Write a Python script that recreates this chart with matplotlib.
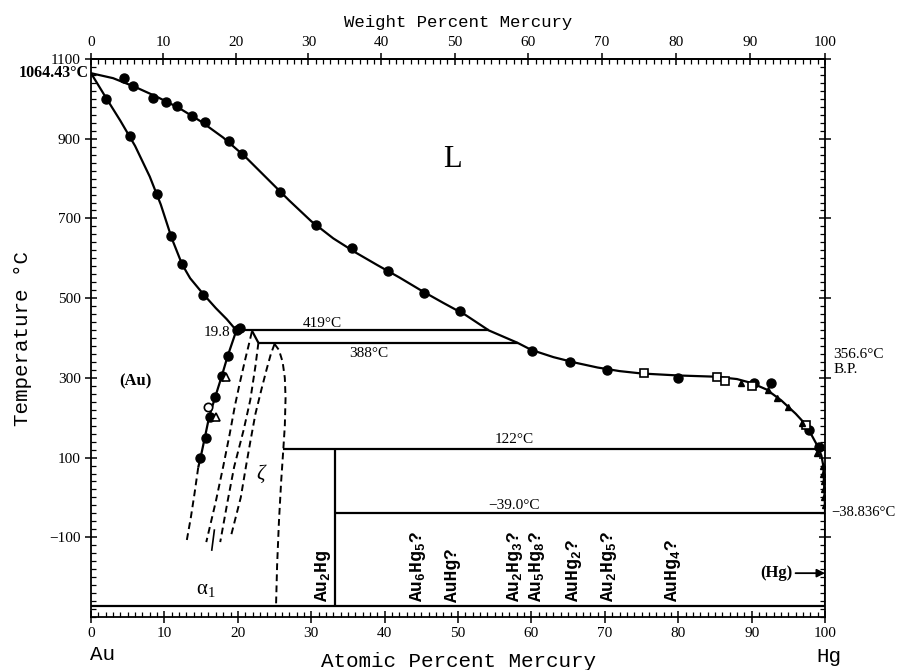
import matplotlib
matplotlib.use("Agg")
import matplotlib.pyplot as plt
from matplotlib.ticker import MultipleLocator, FixedLocator
import numpy as np

# ----------------------------------- DATA ----------------------------------- #

M_AU = 196.967
M_HG = 200.59

AU_MELT = 1064.43
HG_MELT = -38.836
ABS_ZERO = -273.0

# liquidus, at.% Hg vs temperature
liquidus_x = [0, 3, 6, 9, 12, 15, 18, 21, 24, 27, 30, 33, 36, 39, 42, 45, 48, 51, 54.2,
              58.1, 60, 63, 66, 69, 72, 75, 80, 85, 88, 90, 92, 94, 96, 97, 98, 99,
              99.5, 99.75, 99.85, 99.95, 100]
liquidus_t = [AU_MELT, 1052, 1030, 1005, 977, 943, 903, 855, 800, 745, 693, 650, 615, 583,
              552, 519, 488, 458, 419, 388, 370, 352, 338, 326, 317, 311, 306, 303, 297,
              287, 271, 244, 210, 190, 162, 128, 105, 80, 40, 0, HG_MELT]

# (Au) solidus
solidus_x = [0, 2, 4, 6, 8, 9.5, 11, 12.4, 13.5, 15.3, 17, 18.5, 19.8]
solidus_t = [AU_MELT, 1004, 945, 882, 805, 735, 650, 585, 550, 510, 475, 447, 419]

# (Au) solvus, measured part and dashed extension
solvus_x = [19.8, 18.6, 17.8, 16.9, 16.1, 15.5, 14.9, 14.6]
solvus_t = [419, 354, 304, 251, 203, 150, 98, 75]
solvus_ext_x = [14.6, 14.1, 13.6, 13.05]
solvus_ext_t = [75, 10, -50, -107]

# dashed phase boundaries between (Au) and zeta
bound_a_x = [21.9, 21.45, 21.0, 20.3, 19.6, 18.9, 18.0, 17.0, 15.7]
bound_a_t = [415, 380, 346, 290, 230, 160, 77, -10, -112]
bound_b_x = [22.8, 22.4, 21.7, 20.8, 19.5, 18.6, 17.6]
bound_b_t = [388, 330, 245, 170, 77, -10, -112]
bound_c_x = [25.0, 24.5, 23.9, 23.2, 22.4, 21.7, 21.1, 20.4, 19.1]
bound_c_t = [385, 360, 320, 270, 210, 140, 77, 0, -94]
zeta_right_x = [25.0, 25.6, 26.1, 26.4, 26.5, 26.4, 26.2, 25.9, 25.6, 25.35, 25.2]
zeta_right_t = [385, 370, 340, 300, 250, 180, 122, 40, -60, -170, -273]

# invariant horizontals
inv_t = [419, 388, 122, -39.0]
inv_left = [19.8, 22.8, 26.1, 33.3]
inv_right = [54.2, 58.1, 99.2, 100]
peritectic_step_x = [21.9, 22.8]
peritectic_step_t = [419, 388]

# Au2Hg line compound
au2hg_x = 33.3

# experimental points
circ_x = [4.5, 5.7, 8.5, 10.2, 11.7, 13.7, 15.5, 18.8, 20.6, 25.7, 30.7, 35.6, 40.5, 45.3,
          50.2, 2.0, 5.3, 9.0, 10.9, 12.4, 15.3, 19.9, 20.3, 18.6, 17.8, 16.9, 16.2, 15.7,
          14.9, 60.1, 65.2, 70.3, 80.0, 90.3, 92.6, 97.8, 99.2]
circ_t = [1052, 1032, 1002, 992, 982, 957, 941, 894, 861, 766, 683, 627, 567, 514,
          467, 1000, 906, 761, 655, 585, 509, 421, 425, 354, 304, 251, 203, 150,
          98, 368, 341, 319, 300, 288, 288, 168, 126]
open_circ_x = [16.0]
open_circ_t = [227]
open_tri_x = [18.4, 17.0]
open_tri_t = [303, 203]
square_x = [75.3, 85.3, 86.4, 90.0, 97.4]
square_t = [313, 303, 291, 279, 182]
tri_x = [88.5, 92.2, 93.5, 94.9, 96.9, 98.9, 99.7, 99.75, 99.8, 99.85, 99.9, 99.95]
tri_t = [286, 269, 250, 228, 188, 112, 80, 60, 40, 20, 0, -20]

# phase labels, rotated
compound_labels = ["Au$_2$Hg", "Au$_6$Hg$_5$?", "AuHg?", "Au$_2$Hg$_3$?", "Au$_5$Hg$_8$?",
                   "AuHg$_2$?", "Au$_2$Hg$_5$?", "AuHg$_4$?"]
compound_label_x = [31.6, 44.6, 49.2, 57.8, 60.8, 65.8, 70.5, 79.3]

y_major = [1100, 900, 700, 500, 300, 100, -100]


# ------------------------------- CONVERSIONS -------------------------------- #


def at_to_wt(x):
    x = np.asarray(x, dtype=float)
    return 100 * x * M_HG / (x * M_HG + (100 - x) * M_AU)


def wt_to_at(w):
    w = np.asarray(w, dtype=float)
    return 100 * (w / M_HG) / (w / M_HG + (100 - w) / M_AU)


# ----------------------------------- PLOT ----------------------------------- #


def plot() -> None:
    plt.rcParams["font.family"] = ["Liberation Serif", "DejaVu Serif"]
    plt.rcParams["mathtext.default"] = "regular"

    fig = plt.figure(figsize=(9.04, 6.70), dpi=100)
    ax = fig.add_axes([0.1007, 0.0791, 0.812, 0.8328])
    lw = 1.6
    line = dict(color="black", lw=lw, solid_capstyle="butt")
    dash = dict(color="black", lw=1.4, linestyle=(0, (3.5, 2.2)))

    ax.plot(liquidus_x, liquidus_t, **line)
    ax.plot(solidus_x, solidus_t, **line)
    ax.plot(solvus_x, solvus_t, **line)
    ax.plot(peritectic_step_x, peritectic_step_t, **line)
    ax.hlines(inv_t, inv_left, inv_right, color="black", lw=lw)
    ax.vlines(au2hg_x, ABS_ZERO, 122, color="black", lw=lw)
    ax.hlines(ABS_ZERO, 0, 100, color="black", lw=lw)
    ax.vlines(100, ABS_ZERO, HG_MELT, color="black", lw=2.2)

    for bx, bt in [(solvus_ext_x, solvus_ext_t), (bound_a_x, bound_a_t),
                   (bound_b_x, bound_b_t), (bound_c_x, bound_c_t),
                   (zeta_right_x, zeta_right_t)]:
        ax.plot(bx, bt, **dash)

    ax.plot(circ_x, circ_t, "o", color="black", ms=6.5, zorder=5)
    ax.plot(open_circ_x, open_circ_t, "o", mfc="white", mec="black", mew=1.2, ms=6, zorder=5)
    ax.plot(open_tri_x, open_tri_t, "^", mfc="white", mec="black", mew=1.2, ms=6, zorder=5)
    ax.plot(square_x, square_t, "s", mfc="white", mec="black", mew=1.2, ms=6, zorder=5)
    ax.plot(tri_x, tri_t, "^", color="black", ms=5, zorder=5)

    # ------------------------------ annotations ----------------------------- #
    ax.text(49.2, 849, "L", fontsize=22, ha="center", va="center")
    ax.text(6.1, 291, "(Au)", fontsize=12, fontweight="bold", ha="center", va="center")
    ax.text(19.0, 414, "19.8", fontsize=11, ha="right", va="center")
    ax.text(31.5, 436, "419°C", fontsize=11, ha="center", va="center")
    ax.text(37.9, 362, "388°C", fontsize=11, ha="center", va="center")
    ax.text(57.6, 145, "122°C", fontsize=11, ha="center", va="center")
    ax.text(57.6, -19, "−39.0°C", fontsize=11, ha="center", va="center")
    ax.text(23.1, 57, "ζ", fontsize=15, style="italic", ha="center", va="center")
    ax.text(15.7, -232, r"$\alpha_1$", fontsize=15, ha="center", va="center")
    ax.plot([16.8, 16.45], [-82, -132], color="black", lw=1.2)
    ax.text(-0.3, AU_MELT, "1064.43°C", fontsize=11.5, fontweight="bold",
            ha="right", va="center")
    ax.text(101.1, 358, "356.6°C", fontsize=11, ha="left", va="center")
    ax.text(101.1, 321, "B.P.", fontsize=11, ha="left", va="center")
    ax.text(100.8, HG_MELT, "−38.836°C", fontsize=10.5, ha="left", va="center")
    ax.annotate("(Hg)", xy=(100, -190), xytext=(93.4, -190), fontsize=12,
                fontweight="bold", ha="center", va="center",
                arrowprops=dict(arrowstyle="-|>", color="black", lw=1.3,
                                shrinkA=0, shrinkB=0, mutation_scale=12))

    for label, lx in zip(compound_labels, compound_label_x):
        ax.text(lx, -262, label, rotation=90, ha="center", va="bottom",
                fontsize=13, fontweight="bold", family="Liberation Mono")

    # --------------------------------- axes --------------------------------- #
    ax.set_xlim(0, 100)
    ax.set_ylim(-300, 1100)
    ax.set_xticks(range(0, 101, 10))
    ax.xaxis.set_minor_locator(MultipleLocator(1))
    ax.yaxis.set_major_locator(FixedLocator(y_major))
    ax.yaxis.set_minor_locator(MultipleLocator(20))
    ax.tick_params(which="major", direction="inout", length=8, width=1.1,
                   labelsize=11, top=False, right=True)
    ax.tick_params(which="minor", direction="in", length=3.5, width=0.9,
                   top=False, right=True)
    for sp in ax.spines.values():
        sp.set_linewidth(1.3)

    mono = dict(family="Liberation Mono")
    ax.set_xlabel("Atomic Percent Mercury", fontsize=15, labelpad=8, **mono)
    ax.set_ylabel("Temperature °C", fontsize=15, labelpad=12, **mono)
    ax.text(1.6, -395, "Au", fontsize=15, ha="center", va="center", **mono)
    ax.text(100.5, -400, "Hg", fontsize=15, ha="center", va="center", **mono)

    secax = ax.secondary_xaxis("top", functions=(at_to_wt, wt_to_at))
    secax.set_xticks(range(0, 101, 10))
    secax.xaxis.set_minor_locator(MultipleLocator(1))
    secax.tick_params(which="major", direction="inout", length=8, width=1.1, labelsize=11)
    secax.tick_params(which="minor", direction="in", length=3.5, width=0.9)
    secax.spines["top"].set_linewidth(1.3)
    secax.set_xlabel("Weight Percent Mercury", fontsize=12.5, labelpad=6, **mono)

    fig.savefig("out.png", dpi=100)


# ----------------------------------- MAIN ----------------------------------- #


def main():
    plot()


if __name__ == "__main__":
    main()
